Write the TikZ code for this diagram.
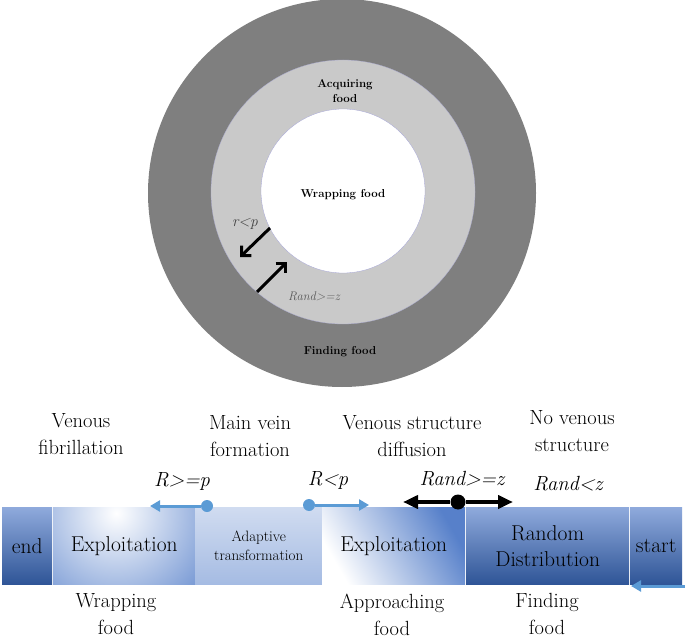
\documentclass[tikz,border=0pt]{standalone}
\usepackage{xcolor}
\usetikzlibrary{arrows.meta, positioning, calc}

\definecolor{ringdark}{HTML}{7F7F7F}
\definecolor{ringlight}{HTML}{C9C9C9}
\definecolor{boxblue}{HTML}{4472C4}
\definecolor{boxdeep}{HTML}{2F5597}
\definecolor{boxpale}{HTML}{8FAADC}
\definecolor{arrowblue}{HTML}{5B9BD5}

\begin{document}
\begin{tikzpicture}[x=1pt,y=-1pt,
  lbl/.style={align=center,font=\fontsize{20.5}{27}\selectfont},
  ringlbl/.style={align=center,font=\bfseries\fontsize{11.5}{15}\selectfont},
  cond/.style={font=\itshape\fontsize{20.5}{24}\selectfont},
  stage/.style={anchor=north west,minimum height=77pt,inner sep=0pt,align=center,
    font=\fontsize{21.5}{26}\selectfont},
  darkstage/.style={stage,top color=boxpale,middle color=boxblue,bottom color=boxdeep},
  bluedot/.style={circle,fill=arrowblue,inner sep=0pt,minimum size=12pt},
  blackdot/.style={circle,fill=black,inner sep=0pt,minimum size=15pt}]
  \useasboundingbox (0,0) rectangle (685,644);
  % rings
  \fill[ringdark] (342,193) circle (194);
  \filldraw[fill=ringlight,draw=ringlight!85!blue,line width=0.3pt] (343,192) circle (132);
  \filldraw[fill=white,draw=ringlight!80!blue,line width=0.3pt] (343,191) circle (82);
  \node[ringlbl] (acquire) at (345,91) {Acquiring\\food};
  \node[ringlbl] (wrapin) at (343,195) {Wrapping food};
  \node[ringlbl] (findout) at (340,352) {Finding food};
  \node[font=\itshape\fontsize{15.5}{18}\selectfont,text=black!75] (rp) at (245,224) {r<p};
  \node[font=\itshape\fontsize{12.5}{15}\selectfont,text=black!65] (randin) at (314,296) {Rand>=z};
  \coordinate (outA) at (270,228);
  \coordinate (outB) at (240,257);
  \coordinate (inA) at (257,292);
  \coordinate (inB) at (287,262);
  \draw[line width=3pt,-{Straight Barb[length=7pt,width=14pt]}] (outA) -- (outB);
  \draw[line width=3pt,-{Straight Barb[length=7pt,width=14pt]}] (inA) -- (inB);
  % stages
  \node[darkstage,minimum width=50pt] (endbox) at (2,507) {end};
  \node[stage,minimum width=142pt,fill=boxblue,
    path picture={\shade[inner color=white,outer color=boxblue]
      ($(path picture bounding box.north)+(-8,6)$) circle (150);}] (exploitA) at (53,507) {Exploitation};
  \node[stage,minimum width=127pt,top color=boxblue!25,middle color=boxblue!28,bottom color=boxblue!48,
    font=\fontsize{15}{19}\selectfont] (adapt) at (195,507) {Adaptive\\transformation};
  \node[stage,minimum width=143pt,left color=white,right color=boxblue!90,shading angle=120] (exploitB) at (322,507) {Exploitation};
  \node[darkstage,minimum width=163pt] (random) at (466,507) {Random\\Distribution};
  \node[darkstage,minimum width=52pt] (startbox) at (630,507) {start};
  % labels above and below
  \node[lbl] (fibril) at (81,434) {Venous\\fibrillation};
  \node[lbl] (mainvein) at (250,436) {Main vein\\formation};
  \node[lbl] (diffuse) at (412,436) {Venous structure\\diffusion};
  \node[lbl] (novein) at (572,431) {No venous\\structure};
  \node[lbl] (wrapout) at (116,614) {Wrapping\\food};
  \node[lbl] (approach) at (392,615) {Approaching\\food};
  \node[lbl] (findbelow) at (547,614) {Finding\\food};
  \node[cond] (geqp) at (182,481) {R>=p};
  \node[cond] (ltp) at (328,480) {R<p};
  \node[cond] (randgeq) at (462,479) {Rand>=z};
  \node[cond] (randlt) at (568,484) {Rand<z};
  % transitions
  \node[bluedot] (dotA) at (207,506) {};
  \coordinate (tipA) at (150,506);
  \draw[arrowblue,line width=3pt,-{Triangle[length=10pt,width=11pt]}] (dotA) -- (tipA);
  \node[bluedot] (dotB) at (309,505) {};
  \coordinate (tipB) at (369,505);
  \draw[arrowblue,line width=3pt,-{Triangle[length=10pt,width=11pt]}] (dotB) -- (tipB);
  \node[blackdot] (dotC) at (458,502) {};
  \coordinate (tipL) at (403,502);
  \coordinate (tipR) at (513,502);
  \draw[line width=4pt,-{Triangle[length=15pt,width=13pt]}] (dotC) -- (tipL);
  \draw[line width=4pt,-{Triangle[length=15pt,width=13pt]}] (dotC) -- (tipR);
  \coordinate (entry) at (686,586);
  \coordinate (entrytip) at (631,586);
  \draw[arrowblue,line width=3pt,-{Triangle[length=10pt,width=11pt]}] (entry) -- (entrytip);
\end{tikzpicture}
\end{document}
